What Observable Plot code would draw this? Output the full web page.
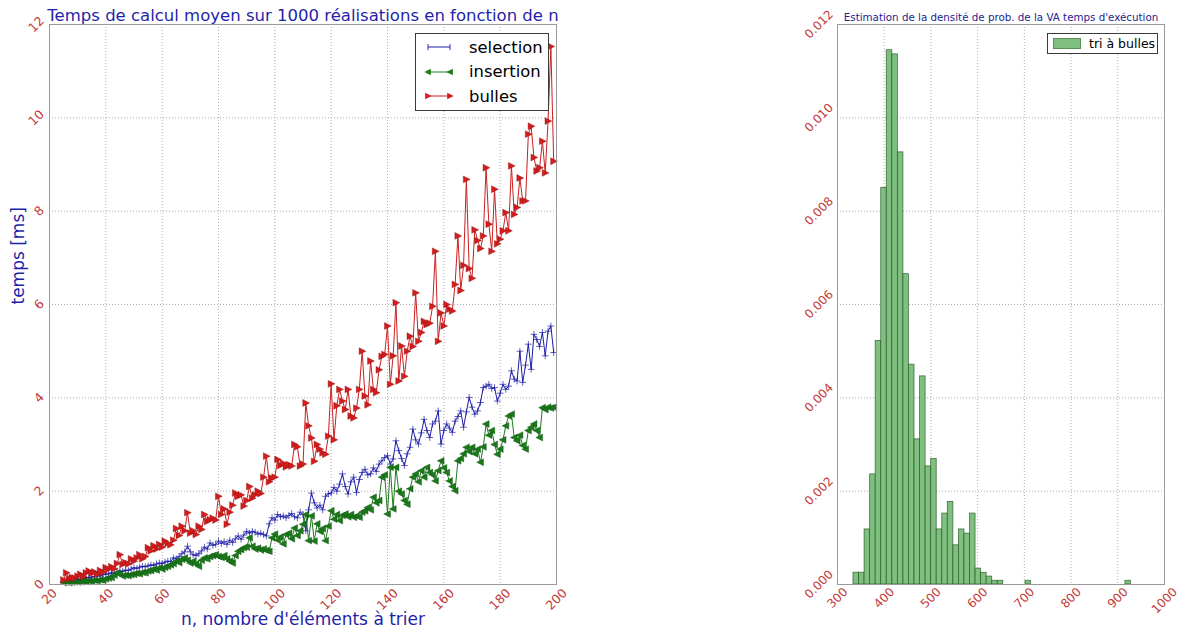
<!DOCTYPE html>
<html><head><meta charset="utf-8">
<script src="https://cdn.jsdelivr.net/npm/d3@7"></script>
<script src="https://cdn.jsdelivr.net/npm/@observablehq/plot@0.6"></script>
<style>
html,body{margin:0;padding:0;background:#fff;}
#wrap{position:relative;width:1179px;height:629px;overflow:hidden;font-family:"DejaVu Sans",sans-serif;}
.abs{position:absolute;}
.leg{position:absolute;background:#fff;border:1px solid #3a3a3a;box-sizing:border-box;}
.row{position:absolute;display:flex;align-items:center;}
</style></head><body><div id="wrap"></div>
<script>
// ---------- data : left chart ----------
const nStart = 25;
const selection = [
0.07,0.08,0.08,0.09,0.10, 0.11,0.12,0.12,0.14,0.15, 0.16,0.17,0.19,0.18,0.21, 0.22,0.23,0.25,0.24,0.27,
0.29,0.28,0.31,0.30,0.33, 0.36,0.34,0.37,0.39,0.38, 0.40,0.42,0.41,0.44,0.46, 0.45,0.48,0.50,0.49,0.57,
0.55,0.60,0.66,0.70,0.82, 0.70,0.64,0.62,0.66,0.72, 0.80,0.76,0.89,0.84,0.86, 0.93,0.88,0.92,0.86,0.95,
0.90,0.98,1.04,0.97,1.06, 1.14,1.10,1.14,1.12,1.08, 1.10,1.07,1.04,1.30,1.43, 1.38,1.50,1.45,1.47,1.43,
1.48,1.52,1.45,1.43,1.55, 1.50,1.15,1.60,1.96,1.75, 1.64,1.70,1.60,1.89,1.94, 1.96,2.08,2.00,2.15,2.37,
2.10,1.94,2.20,2.30,1.97, 2.25,2.40,2.47,2.35,2.37, 2.50,2.42,2.58,2.65,2.72, 2.76,2.58,2.69,3.08,2.87,
2.70,2.55,2.80,2.94,3.33, 3.10,3.01,3.25,3.54,3.30, 3.15,3.44,3.50,3.72,3.01, 3.30,3.44,3.35,3.26,3.50,
3.60,3.72,3.37,3.70,4.01, 3.80,3.65,3.72,3.90,4.22, 4.25,4.29,4.20,4.22,3.93, 4.10,4.29,4.18,4.25,4.58,
4.40,4.36,5.00,4.33,4.70, 5.15,4.61,5.36,5.25,5.10, 5.40,4.90,5.43,5.54,4.97
];
const insertion = [
0.04,0.05,0.04,0.05,0.06, 0.05,0.06,0.07,0.06,0.08, 0.07,0.09,0.08,0.10,0.09, 0.12,0.14,0.15,0.20,0.25,
0.22,0.18,0.20,0.19,0.21, 0.22,0.24,0.23,0.26,0.25, 0.29,0.30,0.33,0.31,0.36, 0.33,0.37,0.39,0.42,0.45,
0.50,0.47,0.54,0.57,0.52, 0.46,0.50,0.44,0.39,0.52, 0.57,0.55,0.60,0.62,0.64, 0.60,0.58,0.62,0.55,0.50,
0.46,0.62,0.71,0.75,0.79, 0.80,1.00,0.82,0.76,0.78, 0.74,0.76,0.73,0.71,1.00, 1.08,0.95,1.02,0.87,1.07,
1.10,0.98,1.21,1.05,1.15, 1.29,1.50,0.94,1.47,0.93, 1.30,1.14,1.20,0.94,1.25, 1.58,1.40,1.50,1.37,1.48,
1.51,1.45,1.50,1.44,1.47, 1.44,1.55,1.58,1.65,1.60, 1.87,1.75,1.80,2.30,2.35, 1.51,2.51,1.62,2.51,2.00,
1.94,1.80,1.72,2.05,2.30, 2.37,2.20,2.44,2.30,2.51, 2.40,2.35,2.22,2.44,2.65, 2.50,2.40,2.22,2.10,2.01,
2.65,2.70,2.80,2.94,2.85, 2.94,2.80,2.90,2.62,2.95, 3.44,3.20,3.30,3.00,2.79, 2.90,3.10,3.40,3.61,3.65,
3.15,3.08,3.20,2.98,2.90, 3.30,3.37,3.44,3.30,3.15, 3.79,3.75,3.80,3.78,3.80
];
const bulles = [
0.10,0.25,0.12,0.15,0.14, 0.18,0.22,0.17,0.25,0.29, 0.24,0.27,0.22,0.30,0.26, 0.36,0.33,0.38,0.34,0.45,
0.64,0.43,0.47,0.44,0.55, 0.50,0.57,0.64,0.55,0.60, 0.79,0.72,0.83,0.76,0.86, 0.80,0.93,0.88,0.85,0.95,
1.20,1.05,1.25,1.15,1.54, 1.10,1.15,1.07,1.25,1.18, 1.50,1.35,1.39,1.42,1.38, 1.89,1.50,1.62,1.29,1.55,
1.70,1.96,1.89,1.92,1.68, 1.80,2.10,1.85,1.92,2.00, 1.95,2.30,2.75,2.20,2.28, 2.30,2.68,2.55,2.60,2.52,
2.57,2.54,3.00,2.95,2.54, 2.58,3.89,3.40,3.14,2.64, 3.00,2.90,2.82,2.79,3.18, 4.30,3.10,3.83,4.18,3.93,
3.75,4.18,3.61,3.57,3.78, 4.18,5.00,4.04,3.85,4.79, 4.18,4.11,4.60,4.89,4.93, 5.54,4.29,4.90,6.04,4.36,
5.11,4.46,5.00,5.32,5.10, 6.25,5.21,5.40,5.64,5.57, 5.60,5.96,7.14,5.21,5.82, 5.54,6.00,5.90,5.86,6.43,
7.47,6.30,6.84,8.68,6.77, 6.56,7.60,7.37,7.20,7.47, 8.93,7.72,7.14,8.47,7.30, 7.40,7.58,7.97,7.58,8.97,
7.93,8.08,8.71,8.22,8.22, 9.65,9.82,9.15,8.86,8.93, 9.50,8.82,9.93,11.53,9.07
];
const seriesNames = ["selection", "insertion", "bulles"];
const xTicksLeft = [20, 40, 60, 80, 100, 120, 140, 160, 180, 200];
const yTicksLeft = [0, 2, 4, 6, 8, 10, 12];
const leftTitle = "Temps de calcul moyen sur 1000 réalisations en fonction de n";
const leftXLabel = "n, nombre d'éléments à trier";
const leftYLabel = "temps [ms]";

// ---------- data : right chart (histogram, 50 bins) ----------
const histMin = 334.2;
const histBinWidth = 11.88;
const histDensity = [
0.000253,0.000253,0.00118,0.00236,0.00522,0.00850,0.01145,0.01136,0.00926,0.00665,
0.00471,0.00311,0.00446,0.00253,0.00269,0.00118,0.00152,0.00177,0.00084,0.00118,
0.00109,0.00152,0.00034,0.00025,0.00017,0.00008,0.00008,0,0,0,
0,0.00008,0,0,0,0,0,0,0,0,
0,0,0,0,0,0,0,0,0,0.00008
];
const xTicksRight = [300, 400, 500, 600, 700, 800, 900, 1000];
const yTicksRight = [0, 0.002, 0.004, 0.006, 0.008, 0.010, 0.012];
const rightTitle = "Estimation de la densité de prob. de la VA temps d'exécution";
const rightLegend = "tri à bulles";

// ---------- styles ----------
const FONT = "DejaVu Sans";
const tickColor = "#c23a3a";
const titleColor = "#1f1fa8";
const colors = {selection: "#1c1ca6", insertion: "#1d7a1d", bulles: "#cc1f1f"};

const triRight = {draw(ctx, size) {const s = Math.sqrt(size / Math.PI); ctx.moveTo(s, 0); ctx.lineTo(-s * 0.8, -s * 0.9); ctx.lineTo(-s * 0.8, s * 0.9); ctx.closePath();}};
const triLeft = {draw(ctx, size) {const s = Math.sqrt(size / Math.PI); ctx.moveTo(-s, 0); ctx.lineTo(s * 0.8, -s * 0.9); ctx.lineTo(s * 0.8, s * 0.9); ctx.closePath();}};

function halfExtent(label, fs) {
  const w = [...label].reduce((s, c) => s + (c === "." ? 0.318 : 0.636), 0) * fs;
  const h = 0.8 * fs;
  return (w + h) * Math.SQRT1_2 / 2;
}
function xTickMarks(ticks, fmt, pad, fs) {
  return ticks.map(t => { const s = fmt(t); return Plot.text([t], {x: d => d, frameAnchor: "bottom", text: () => s, rotate: -45, textAnchor: "middle", lineAnchor: "middle", dy: pad + halfExtent(s, fs), fontSize: fs, fill: tickColor}); });
}
function yTickMarks(ticks, fmt, pad, fs) {
  return ticks.map(t => { const s = fmt(t); return Plot.text([t], {y: d => d, frameAnchor: "left", text: () => s, rotate: -45, textAnchor: "middle", lineAnchor: "middle", dx: -(pad + halfExtent(s, fs)), fontSize: fs, fill: tickColor}); });
}
const gridStyle = {stroke: "#777", strokeOpacity: 0.75, strokeDasharray: "1,2", strokeWidth: 0.8};

// ---------- left chart ----------
const rowsOf = (arr, name) => arr.map((v, i) => ({n: nStart + i, v, name}));
const selRows = rowsOf(selection, "selection");
const insRows = rowsOf(insertion, "insertion");
const bulRows = rowsOf(bulles, "bulles");

const left = Plot.plot({
  width: 570, height: 629,
  marginLeft: 49, marginRight: 14, marginTop: 24, marginBottom: 45,
  style: {fontFamily: FONT, background: "transparent", overflow: "visible"},
  x: {domain: [20, 200], axis: null},
  y: {domain: [0, 12], axis: null},
  marks: [
    Plot.gridX(xTicksLeft.slice(1, -1), gridStyle),
    Plot.gridY(yTicksLeft.slice(1, -1), gridStyle),
    Plot.line(selRows, {x: "n", y: "v", stroke: colors.selection, strokeWidth: 1}),
    Plot.dot(selRows, {x: "n", y: "v", symbol: "plus", r: 2.3, stroke: colors.selection, fill: "none", strokeWidth: 0.7}),
    Plot.line(insRows, {x: "n", y: "v", stroke: colors.insertion, strokeWidth: 1}),
    Plot.dot(insRows, {x: "n", y: "v", symbol: triLeft, r: 3.8, fill: "#1a7a1a", stroke: "#0f4f0f", strokeWidth: 0.4}),
    Plot.line(bulRows, {x: "n", y: "v", stroke: colors.bulles, strokeWidth: 1}),
    Plot.dot(bulRows, {x: "n", y: "v", symbol: triRight, r: 3.8, fill: "#d41c1c", stroke: "#8f1010", strokeWidth: 0.4}),
    Plot.frame({stroke: "#9a9a9a"}),
    ...xTickMarks(xTicksLeft, d => String(d), 3, 12.5),
    ...yTickMarks(yTicksLeft, d => String(d), 4, 12.5),
    Plot.text([leftTitle], {frameAnchor: "top", lineAnchor: "bottom", dy: -4, fontSize: 16.5, fill: titleColor}),
    Plot.text([leftXLabel], {frameAnchor: "bottom", lineAnchor: "middle", dy: 35, fontSize: 17, fill: titleColor}),
    Plot.text([leftYLabel], {frameAnchor: "left", lineAnchor: "middle", rotate: -90, dx: -31, fontSize: 17, fill: titleColor})
  ]
});

// ---------- right chart ----------
const histRows = histDensity.map((d, i) => ({x1: histMin + i * histBinWidth, x2: histMin + (i + 1) * histBinWidth, d})).filter(r => r.d > 0);
const right = Plot.plot({
  width: 399, height: 629,
  marginLeft: 57, marginRight: 15, marginTop: 24, marginBottom: 45,
  style: {fontFamily: FONT, background: "transparent", overflow: "visible"},
  x: {domain: [300, 1000], axis: null},
  y: {domain: [0, 0.012], axis: null},
  marks: [
    Plot.gridX(xTicksRight.slice(1, -1), gridStyle),
    Plot.gridY(yTicksRight.slice(1, -1), gridStyle),
    Plot.rectY(histRows, {x1: "x1", x2: "x2", y: "d", fill: "#7fbf7f", stroke: "#1e4f1e", strokeOpacity: 0.75, strokeWidth: 0.8}),
    Plot.frame({stroke: "#9a9a9a"}),
    ...xTickMarks(xTicksRight, d => String(d), 2, 12),
    ...yTickMarks(yTicksRight, d3.format(".3f"), 3, 12),
    Plot.text([rightTitle], {frameAnchor: "top", lineAnchor: "bottom", dy: -3.5, fontSize: 10.3, fill: "#23238e"})
  ]
});

const wrap = document.getElementById("wrap");
left.classList.add("abs"); left.style.left = "0px"; left.style.top = "0px";
right.classList.add("abs"); right.style.left = "780px"; right.style.top = "0px";
wrap.appendChild(left); wrap.appendChild(right);

// ---------- legends ----------
function glyph(name) {
  const c = colors[name];
  let m = "";
  const ends = [3, 25];
  for (const x of ends) {
    if (name === "selection") m += `<line x1="${x}" y1="2" x2="${x}" y2="8" stroke="${c}" stroke-width="0.9"/>`;
    else if (name === "insertion") m += `<path d="M${x - 3.6},5 L${x + 2.8},1.8 L${x + 2.8},8.2 Z" fill="#1a7a1a"/>`;
    else m += `<path d="M${x + 3.6},5 L${x - 2.8},1.8 L${x - 2.8},8.2 Z" fill="#d41c1c"/>`;
  }
  return `<svg width="30" height="10" style="overflow:visible"><line x1="3" y1="5" x2="25" y2="5" stroke="${c}" stroke-width="1"/>${m}</svg>`;
}
const legL = document.createElement("div");
legL.className = "leg";
Object.assign(legL.style, {left: "415px", top: "33px", width: "134px", height: "78px"});
seriesNames.forEach((name, i) => {
  const r = document.createElement("div");
  r.className = "row";
  Object.assign(r.style, {left: "9px", top: (1 + i * 24.5) + "px", height: "24px"});
  r.innerHTML = glyph(name) + `<span style="margin-left:14px;font-size:16.4px;color:#000;">${name}</span>`;
  legL.appendChild(r);
});
wrap.appendChild(legL);

const legR = document.createElement("div");
legR.className = "leg";
Object.assign(legR.style, {left: "1047px", top: "33px", width: "111px", height: "21px"});
legR.innerHTML = `<div class="row" style="left:5px;top:0;height:19px;"><span style="display:inline-block;width:26px;height:9px;background:#7fbf7f;border:0.5px solid #5a8f5a;"></span><span style="margin-left:8px;font-size:12.5px;color:#000;">${rightLegend}</span></div>`;
wrap.appendChild(legR);
</script>
</body></html>
